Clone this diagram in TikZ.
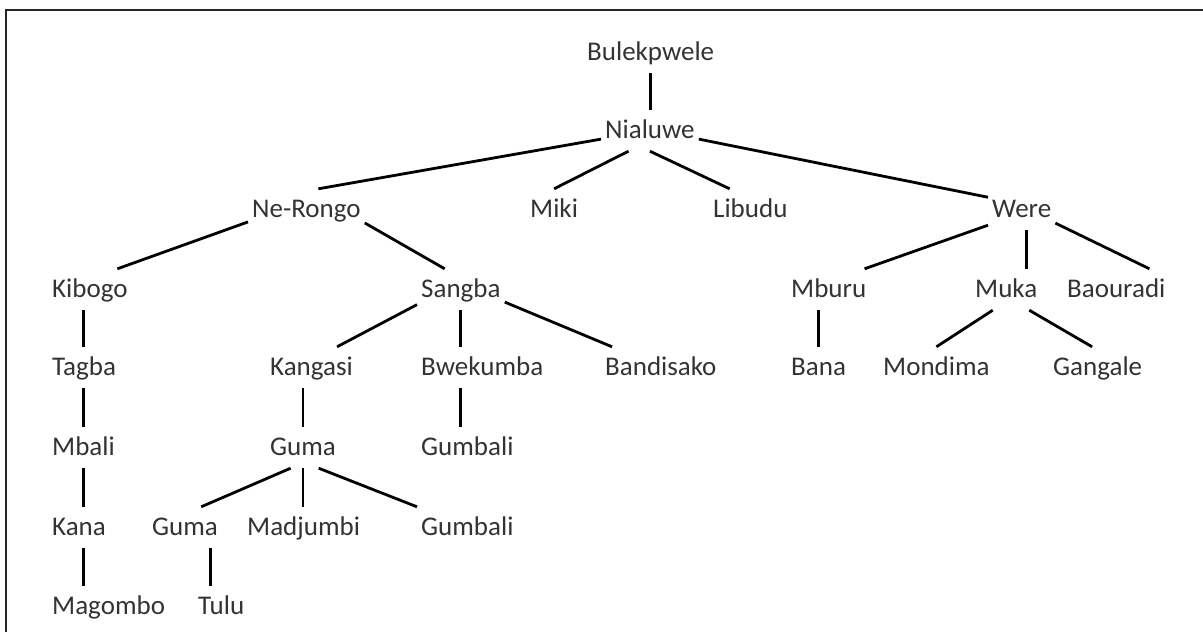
\documentclass[tikz,border=0pt]{standalone}
\usepackage{fontspec}
\setmainfont{Carlito}
\usepackage{tikz}

\begin{document}
\begin{tikzpicture}[x=1pt, y=-1pt]
        \tikzset{member/.style={font=\fontsize{27}{30}\selectfont, text=black!80, anchor=base west,
                inner xsep=4pt, inner ysep=0pt, text height=28pt, text depth=13pt},
            link/.style={draw=black, line width=2.8pt}}
        \useasboundingbox (0,0) rectangle (1203,632);
        % frame, only its top and left edges are inside the picture
        \draw[line width=1.5pt, black!85] (1203,10) -- (6,10) -- (6,632);

        % generations, one row after another
        \node[member] (bulekpwele) at (583,60) {Bulekpwele};
        \node[member] (nialuwe) at (601,138) {Nialuwe};

        \node[member] (nerongo) at (248,217) {Ne-Rongo};
        \node[member] (miki) at (526,217) {Miki};
        \node[member] (libudu) at (709,217) {Libudu};
        \node[member] (were) at (988,217) {Were};

        \node[member] (kibogo) at (48,297) {Kibogo};
        \node[member] (sangba) at (417,297) {Sangba};
        \node[member] (mburu) at (787,297) {Mburu};
        \node[member] (muka) at (971,297) {Muka};
        \node[member] (baouradi) at (1063,297) {Baouradi};

        \node[member] (tagba) at (48,375) {Tagba};
        \node[member] (kangasi) at (266,375) {Kangasi};
        \node[member] (bwekumba) at (417,375) {Bwekumba};
        \node[member] (bandisako) at (601,375) {Bandisako};
        \node[member] (bana) at (787,375) {Bana};
        \node[member] (mondima) at (879,375) {Mondima};
        \node[member] (gangale) at (1049,375) {Gangale};

        \node[member] (mbali) at (48,455) {Mbali};
        \node[member] (guma) at (266,455) {Guma};
        \node[member] (gumbali) at (417,455) {Gumbali};

        \node[member] (kana) at (48,535) {Kana};
        \node[member] (gumaB) at (148,535) {Guma};
        \node[member] (madjumbi) at (243,535) {Madjumbi};
        \node[member] (gumbaliB) at (417,535) {Gumbali};

        \node[member] (magombo) at (48,614) {Magombo};
        \node[member] (tulu) at (194,614) {Tulu};

        \path[link]
        (bulekpwele.south) edge (bulekpwele.south |- nialuwe.north)

        (nialuwe.190) edge (nerongo.60)
        (nialuwe.224) edge (miki.north)
        (nialuwe.south) edge (libudu.135)
        (nialuwe.-10) edge (were.160)

        (nerongo.192) edge (kibogo.37)
        (nerongo.-13) edge (sangba.128)

        (kibogo.south -| mbali) edge (tagba.north -| mbali)
        (tagba.south -| mbali) edge (mbali.north)
        (mbali.south) edge (kana.north -| mbali)
        (kana.south -| mbali) edge (magombo.north -| mbali)

        (sangba.199) edge (kangasi.39)
        (sangba.south) edge (sangba.south |- bwekumba.north)
        (sangba.-16) edge (bandisako.157)
        (sangba.south |- bwekumba.south) edge (sangba.south |- gumbali.north)

        (kangasi.south -| guma) edge (guma.north)
        (guma.239) edge (gumaB.52)
        (guma.south) edge (guma.south |- madjumbi.north)
        (guma.-53) edge (gumbaliB.north west)
        (gumaB.-39) edge (gumaB.-39 |- tulu.north)

        (were.205) edge (mburu.30)
        (were.-76) edge (were.-76 |- muka.north)
        (were.-22) edge (baouradi.32)
        (mburu.south -| bana) edge (bana.north)
        (muka.237) edge (mondima.north)
        (muka.-42) edge (gangale.105);
\end{tikzpicture}
\end{document}
